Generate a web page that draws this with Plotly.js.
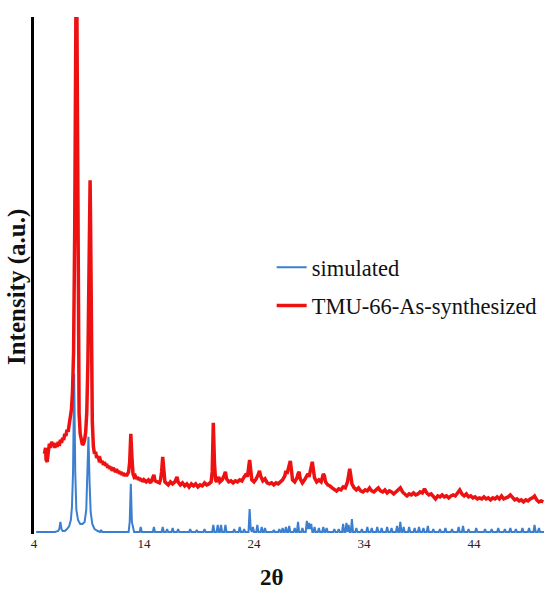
<!DOCTYPE html>
<html>
<head>
<meta charset="utf-8">
<script src="https://cdn.plot.ly/plotly-3.0.1.min.js"></script>
<style>html,body{margin:0;padding:0;background:#fff;}#chart{width:544px;height:589px;}</style>
</head>
<body>
<div id="chart"></div>
<script>
// Simulated pattern (2θ, intensity)
var simX = [4.2,5.9,6.2,6.3,6.4,6.5,6.6,6.8,7.0,7.2,7.35,7.45,7.55,7.65,7.75,7.85,8.0,8.2,8.4,8.6,8.75,8.85,8.95,9.05,9.15,9.3,9.5,9.8,10.0,10.1,10.2,10.4,12.6,12.7,12.8,12.9,13.0,13.1,13.6,13.7,13.8,
 14.8,14.9,15.0,15.6,15.7,15.8,16.0,16.1,16.2,16.5,16.6,16.7,17.0,17.1,17.2,18.1,18.2,18.3,18.7,18.8,18.9,19.4,19.5,19.6,
 20.2,20.3,20.4,20.6,20.7,20.8,20.9,21.0,21.1,21.3,21.4,21.5,22.1,22.2,22.3,22.6,22.7,22.8,23.0,23.1,23.2,23.5,23.6,23.7,23.8,23.9,24.0,24.2,24.3,24.4,24.6,24.7,24.8,24.9,25.0,25.1,
 25.7,25.8,25.9,26.2,26.3,26.4,26.5,26.6,26.7,26.8,26.9,27.0,27.1,27.2,27.3,27.6,27.7,27.8,27.9,28.0,28.1,28.3,28.4,28.5,28.7,28.8,28.9,29.0,29.1,29.2,29.3,29.4,29.5,29.6,29.8,29.9,30.0,30.2,30.3,30.4,30.5,30.6,30.7,
 31.2,31.3,31.4,31.6,31.7,31.8,32.0,32.1,32.2,32.3,32.4,32.5,32.6,32.7,32.8,32.9,33.0,33.2,33.3,33.4,33.7,33.8,33.9,34.2,34.3,34.4,34.6,34.7,34.8,35.1,35.2,35.3,35.5,35.6,35.7,36.0,36.1,36.2,36.4,36.5,36.6,
 36.9,37.0,37.1,37.2,37.3,37.4,37.5,37.6,37.7,38.0,38.1,38.2,38.5,38.6,38.7,38.9,39.0,39.1,39.3,39.4,39.5,39.7,39.8,39.9,40.2,40.3,40.4,40.8,40.9,41.0,41.3,41.4,41.5,41.9,42.0,42.1,
 42.5,42.6,42.7,42.9,43.0,43.1,43.4,43.5,43.6,44.1,44.2,44.3,44.9,45.0,45.1,45.5,45.6,45.7,46.1,46.2,46.3,46.7,46.8,46.9,47.2,47.3,47.4,47.7,47.8,47.9,48.3,48.4,48.5,48.9,49.0,49.1,49.4,49.5,49.6,49.8,49.9,50.0,50.4];
var simY = [0,0,1,3,10,3,1,1,3,6,12,25,60,158,60,22,12,8,8,10,22,50,95,50,20,8,3,1,0,2,0,0,0,10,48,10,3,0,0,5,0,
 0,5,0,0,5,0,0,3,0,0,4,0,0,3,0,0,3,0,0,2,0,0,3,0,
 0,7,0,0,7,0,0,7,0,0,7,0,0,3,0,0,5,0,0,3,0,0,23,3,0,5,0,0,7,0,0,5,0,0,4,0,
 0,2,0,0,3,0,0,4,0,0,5,0,0,6,0,0,4,0,0,10,0,0,4,0,0,11,3,9,3,8,0,0,5,0,0,4,0,0,5,0,0,4,0,
 0,3,0,0,3,0,0,8,0,0,9,0,7,0,0,13,0,0,4,0,0,3,0,0,5,0,0,4,0,0,5,0,0,4,0,0,5,0,0,4,0,
 0,6,0,0,10,0,0,5,0,0,5,0,0,4,0,0,5,0,0,4,0,0,6,0,0,3,0,0,3,0,0,4,0,0,3,0,
 0,5,0,0,6,0,0,3,0,0,4,0,0,3,0,0,3,0,0,4,0,0,3,0,0,4,0,0,3,0,0,4,0,0,4,0,0,7,0,0,4,0,0];

// As-synthesized pattern (2θ, intensity)
var synX = [4.95,5.05,5.1,5.2,5.3,5.4,5.5,5.6,5.7,5.8,5.9,6.0,6.1,6.2,6.3,6.4,6.5,6.6,6.7,6.8,6.9,7.0,7.1,7.2,7.3,7.4,7.5,7.6,7.7,7.8,7.85,7.9,8.0,8.05,8.1,8.2,8.3,8.4,8.5,8.6,8.7,8.8,8.9,9.0,9.1,9.15,9.2,9.3,9.4,9.5,9.6,9.7,9.8,9.9,
 10.0,10.1,10.2,10.3,10.4,10.5,10.6,10.7,10.8,10.9,11.0,11.1,11.2,11.3,11.4,11.5,11.6,11.7,11.8,11.9,12.0,12.1,12.2,12.3,12.4,12.5,12.6,12.7,12.8,12.9,13.0,13.1,13.2,13.3,13.4,13.5,13.6,13.7,13.8,13.9,
 14.0,14.2,14.4,14.6,14.8,14.9,15.0,15.2,15.4,15.5,15.6,15.7,15.8,15.9,16.0,16.2,16.4,16.6,16.8,17.0,17.1,17.3,17.5,17.7,17.9,18.1,18.3,18.5,18.7,18.9,19.1,19.3,19.5,19.7,19.9,
 20.1,20.2,20.3,20.4,20.5,20.6,20.8,20.9,21.1,21.3,21.4,21.5,21.7,21.9,22.1,22.3,22.5,22.7,22.9,23.1,23.3,23.4,23.5,23.6,23.7,23.8,24.0,24.2,24.4,24.5,24.6,24.8,25.0,25.2,25.4,25.6,25.8,26.0,26.2,26.4,26.6,26.8,26.9,
 27.0,27.1,27.2,27.3,27.4,27.5,27.7,27.9,28.0,28.1,28.2,28.4,28.6,28.8,28.9,29.0,29.2,29.3,29.4,29.5,29.7,29.9,30.1,30.3,30.4,30.5,30.7,30.9,31.1,31.3,31.5,31.7,31.9,32.1,32.3,32.5,32.6,32.7,32.8,32.9,
 33.1,33.3,33.5,33.7,33.9,34.1,34.3,34.5,34.7,34.9,35.1,35.3,35.5,35.7,35.9,36.1,36.3,36.5,36.7,36.9,37.1,37.3,37.5,37.7,37.9,38.1,38.3,38.5,38.7,38.9,39.1,39.3,39.5,39.7,39.9,
 40.1,40.3,40.5,40.7,40.9,41.1,41.3,41.5,41.7,41.9,42.1,42.3,42.5,42.7,42.9,43.1,43.3,43.5,43.7,43.9,44.1,44.3,44.5,44.7,44.9,45.1,45.3,45.5,45.7,45.9,
 46.1,46.3,46.5,46.7,46.9,47.1,47.3,47.5,47.7,47.9,48.1,48.3,48.5,48.7,48.9,49.1,49.3,49.5,49.7,49.9,50.1,50.3];
var synY = [78,84,72,70,80,88,84,90,86,89,84,88,85,90,86,92,89,94,92,98,96,102,100,108,112,122,140,180,300,520,600,520,250,160,118,98,90,87,88,92,100,120,170,260,351,300,180,110,85,78,80,74,76,72,
 73,69,71,67,70,66,68,64,66,63,65,61,64,62,60,63,59,61,58,60,57,59,56,58,56,58,60,70,98,75,58,55,56,53,55,52,54,51,53,50,
 52,50,52,49,54,57,51,50,49,52,60,75,62,50,49,47,50,48,50,55,50,47,49,46,48,45,48,46,48,45,47,46,49,47,48,
 50,60,109,70,52,50,55,50,52,57,60,53,50,51,49,51,50,52,51,55,58,55,65,72,62,52,50,53,58,61,56,51,53,49,48,49,47,49,48,50,52,56,61,
 58,62,66,71,62,52,50,54,58,60,53,49,52,57,58,55,64,70,62,54,50,52,50,58,56,50,47,46,44,42,41,43,42,45,44,50,58,63,56,48,
 44,42,44,41,40,42,41,44,41,40,42,44,41,40,42,39,41,40,38,40,41,44,40,38,36,38,37,39,37,38,40,39,43,39,37,
 38,35,33,36,35,37,35,36,34,36,37,36,39,42,38,36,38,35,36,34,35,33,34,33,35,33,34,32,34,33,
 35,33,36,33,34,35,37,34,32,33,31,32,30,32,31,33,34,36,32,30,31,30];

var xTicks = [4, 14, 24, 34, 44];
var seriesNames = ['simulated', 'TMU-66-As-synthesized'];
var xTitle = '2θ';
var yTitle = 'Intensity (a.u.)';

var serif = 'Liberation Serif';

var traces = [
  {x: simX, y: simY, type: 'scatter', mode: 'lines', name: seriesNames[0], legendgroup: 'a',
   line: {color: '#3b7fd0', width: 2}},
  {x: synX, y: synY, type: 'scatter', mode: 'lines', name: seriesNames[1], legendgroup: 'b',
   line: {color: '#ee1111', width: 3.5}}
];

var layout = {
  width: 544, height: 589,
  margin: {l: 34, r: 0, t: 17, b: 55, autoexpand: false},
  paper_bgcolor: '#fff', plot_bgcolor: '#fff',
  showlegend: true,
  legend: {x: 0.466, y: 0.557, xanchor: 'left', yanchor: 'top', bgcolor: 'rgba(0,0,0,0)',
           font: {family: serif, size: 22.5, color: '#111'}, tracegroupgap: 6, traceorder: 'grouped'},
  xaxis: {range: [4, 50.36], tickmode: 'array', tickvals: xTicks, ticktext: xTicks.map(String),
          showgrid: false, zeroline: false, showline: false, ticks: '', automargin: false,
          tickfont: {family: serif, size: 13, color: '#222'}},
  yaxis: {range: [-2, 514], showgrid: false, zeroline: false, showticklabels: false, ticks: '', automargin: false,
          showline: true, linecolor: '#000', linewidth: 3},
  annotations: [
    {text: '<b>' + xTitle + '</b>', xref: 'paper', yref: 'paper', x: 0.467, y: -0.085,
     xanchor: 'center', yanchor: 'middle', showarrow: false,
     font: {family: serif, size: 23, color: '#111'}},
    {text: '<b>' + yTitle + '</b>', xref: 'paper', yref: 'paper', x: -0.033, y: 0.478,
     xanchor: 'center', yanchor: 'middle', showarrow: false, textangle: -90,
     font: {family: serif, size: 25, color: '#111'}}
  ]
};

Plotly.newPlot('chart', traces, layout, {displayModeBar: false, staticPlot: true});
</script>
</body>
</html>
